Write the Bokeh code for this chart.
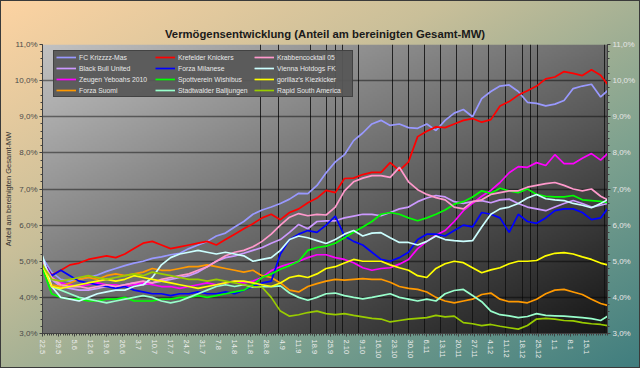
import numpy as np
from bokeh.plotting import figure
from bokeh.models import (Range1d, LinearAxis, FixedTicker, SingleIntervalTicker,
                          CustomJSTickFormatter, Legend, LegendItem)
from bokeh.embed import file_html
from bokeh.resources import INLINE

# ---------------- data ----------------
days = [0, 4, 8, 12, 16, 20, 24, 28, 32, 36, 40, 44, 48, 52, 56, 60, 64, 68, 72, 76,
        80, 84, 88, 92, 96, 100, 104, 108, 112, 116, 120, 124, 128, 132, 136, 140, 144,
        148, 152, 156, 160, 164, 168, 172, 176, 180, 184, 188, 192, 196, 200, 204, 208,
        212, 216, 220, 224, 228, 232, 236, 240, 244, 247]

x_tick_days = [0, 7, 14, 21, 28, 35, 42, 49, 56, 63, 70, 77, 84, 91, 98, 105, 112, 119,
               126, 133, 140, 147, 154, 161, 168, 175, 182, 189, 196, 203, 210, 217, 224,
               231, 238]
x_tick_labels = ["22.5", "29.5", "5.6", "12.6", "19.6", "26.6", "3.7", "10.7", "17.7",
                 "24.7", "31.7", "7.8", "14.8", "21.8", "28.8", "4.9", "11.9", "18.9",
                 "25.9", "2.10", "9.10", "16.10", "23.10", "30.10", "6.11", "13.11",
                 "20.11", "27.11", "4.12", "11.12", "18.12", "25.12", "1.1", "8.1", "15.1"]

matchday_lines = [95.5, 103, 117, 124, 128, 131, 138, 153, 160, 167, 174, 181, 188, 195,
                  202.5, 210, 213.5, 216.5, 245.5]

fc_krizzzz = [5.10, 4.70, 4.50, 4.45, 4.50, 4.55, 4.62, 4.72, 4.80, 4.88, 4.95, 5.00, 5.08,
              5.12, 5.18, 5.22, 5.35, 5.45, 5.55, 5.70, 5.78, 5.95, 6.10, 6.30, 6.42, 6.50,
              6.60, 6.72, 6.88, 6.87, 7.10, 7.45, 7.75, 7.95, 8.34, 8.55, 8.80, 8.90, 8.76,
              8.80, 8.70, 8.68, 8.80, 8.62, 8.90, 9.10, 9.20, 9.00, 9.50, 9.70, 9.85, 9.88,
              9.70, 9.40, 9.37, 9.30, 9.35, 9.45, 9.78, 9.85, 9.90, 9.55, 9.72]
krefelder = [5.00, 4.62, 4.75, 4.90, 4.95, 5.05, 5.10, 5.15, 5.10, 5.20, 5.35, 5.50, 5.55,
             5.45, 5.35, 5.40, 5.45, 5.50, 5.55, 5.45, 5.60, 5.75, 5.90, 6.04, 6.20, 6.30,
             6.15, 6.35, 6.45, 6.62, 6.75, 6.96, 6.90, 7.29, 7.30, 7.40, 7.46, 7.46, 7.73,
             7.51, 7.75, 8.45, 8.60, 8.72, 8.70, 8.80, 8.90, 8.95, 8.85, 8.92, 9.30, 9.42,
             9.60, 9.72, 9.85, 10.05, 10.10, 10.25, 10.20, 10.14, 10.30, 10.15, 9.90]
krabben = [5.00, 4.55, 4.35, 4.30, 4.30, 4.25, 4.30, 4.35, 4.30, 4.35, 4.40, 4.45, 4.40,
           4.50, 4.55, 4.60, 4.65, 4.75, 4.85, 5.00, 5.15, 5.25, 5.30, 5.40, 5.55, 5.75,
           6.00, 6.22, 6.32, 6.26, 6.30, 6.28, 6.50, 6.95, 7.20, 7.30, 7.37, 7.37, 7.32,
           7.60, 7.20, 6.98, 6.85, 6.76, 6.70, 6.50, 6.45, 6.65, 6.70, 6.85, 6.90, 6.95,
           6.95, 7.05, 7.10, 7.15, 7.18, 7.10, 7.00, 6.95, 7.00, 6.80, 6.70]
black_bull = [5.00, 4.50, 4.30, 4.25, 4.20, 4.20, 4.25, 4.30, 4.30, 4.35, 4.40, 4.35, 4.40,
              4.45, 4.50, 4.55, 4.60, 4.70, 4.85, 5.00, 5.10, 5.15, 5.22, 5.30, 5.38, 5.50,
              5.60, 5.80, 6.02, 5.90, 6.10, 6.12, 6.12, 6.20, 6.25, 6.30, 6.30, 6.26, 6.35,
              6.45, 6.50, 6.65, 6.75, 6.82, 6.78, 6.65, 6.60, 6.65, 6.68, 6.62, 6.70, 6.72,
              6.60, 6.50, 6.45, 6.40, 6.50, 6.60, 6.68, 6.60, 6.50, 6.55, 6.60]
milanese = [5.00, 4.60, 4.75, 4.60, 4.45, 4.40, 4.35, 4.30, 4.25, 4.30, 4.20, 4.15, 4.10,
            4.10, 4.05, 4.10, 4.10, 4.15, 4.10, 4.10, 4.15, 4.10, 4.20, 4.30, 4.40, 4.45,
            5.20, 5.60, 5.75, 5.85, 5.80, 6.00, 6.25, 5.70, 5.55, 5.45, 5.25, 5.05, 5.00,
            5.10, 5.25, 5.60, 5.75, 5.75, 5.70, 5.85, 6.00, 5.95, 6.35, 6.30, 6.20, 5.80,
            6.30, 6.10, 6.05, 6.20, 6.40, 6.45, 6.45, 6.35, 6.15, 6.20, 6.45]
vienna = [5.15, 4.30, 4.00, 3.95, 3.90, 4.00, 4.10, 4.15, 4.20, 4.20, 4.30, 4.35, 4.55,
          4.90, 5.10, 5.20, 5.25, 5.30, 5.25, 5.20, 5.25, 5.20, 5.15, 5.00, 5.05, 5.10,
          5.30, 5.60, 5.70, 5.65, 5.57, 5.49, 5.60, 5.75, 5.85, 5.70, 5.78, 5.79, 5.65,
          5.52, 5.52, 5.45, 5.55, 5.70, 5.60, 5.57, 5.55, 5.57, 5.95, 6.30, 6.45, 6.50,
          6.60, 6.75, 6.85, 6.73, 6.70, 6.68, 6.60, 6.55, 6.48, 6.60, 6.70]
zeugen = [5.00, 4.55, 4.40, 4.35, 4.30, 4.35, 4.40, 4.35, 4.35, 4.30, 4.35, 4.40, 4.35,
          4.30, 4.30, 4.25, 4.30, 4.35, 4.40, 4.35, 4.40, 4.45, 4.40, 4.45, 4.55, 4.74,
          4.85, 4.93, 5.00, 5.10, 5.18, 5.18, 5.10, 5.05, 4.96, 4.82, 4.75, 4.80, 4.82,
          4.92, 5.05, 5.35, 5.55, 5.72, 5.85, 6.10, 6.40, 6.60, 6.80, 6.96, 7.18, 7.45,
          7.62, 7.60, 7.73, 7.65, 7.95, 7.70, 7.70, 7.85, 7.98, 7.80, 7.98]
spottverein = [4.80, 4.10, 4.00, 3.95, 3.95, 3.90, 3.90, 3.95, 3.95, 4.00, 3.90, 3.90, 3.90,
               3.95, 3.95, 4.00, 4.00, 4.05, 4.00, 4.05, 4.10, 4.15, 4.20, 4.35, 4.55, 4.65,
               4.78, 4.88, 5.00, 5.30, 5.38, 5.42, 5.50, 5.65, 5.80, 5.95, 6.10, 6.30, 6.35,
               6.30, 6.20, 6.12, 6.20, 6.30, 6.42, 6.58, 6.65, 6.78, 6.95, 6.88, 7.02, 6.95,
               6.90, 7.00, 6.85, 6.80, 6.78, 6.78, 6.82, 6.70, 6.68, 6.66, 6.62]
gorillaz = [4.90, 4.30, 4.25, 4.30, 4.35, 4.40, 4.45, 4.50, 4.45, 4.50, 4.60, 4.55, 4.50,
            4.45, 4.40, 4.35, 4.30, 4.25, 4.30, 4.35, 4.40, 4.45, 4.45, 4.40, 4.35, 4.30,
            4.40, 4.55, 4.60, 4.55, 4.65, 4.80, 4.85, 4.95, 5.05, 5.00, 5.00, 5.00, 4.90,
            4.82, 4.75, 4.60, 4.55, 4.80, 4.93, 5.00, 4.96, 4.82, 4.68, 4.76, 4.82, 4.93,
            5.00, 5.00, 5.02, 5.15, 5.22, 5.24, 5.20, 5.12, 5.05, 4.95, 4.90]
suomi = [4.80, 4.35, 4.30, 4.40, 4.50, 4.55, 4.50, 4.60, 4.65, 4.60, 4.65, 4.70, 4.80,
         4.75, 4.75, 4.80, 4.85, 4.85, 4.90, 4.85, 4.80, 4.75, 4.70, 4.75, 4.60, 4.55,
         4.40, 4.20, 4.15, 4.30, 4.38, 4.45, 4.50, 4.48, 4.50, 4.52, 4.50, 4.50, 4.42,
         4.30, 4.25, 4.22, 4.15, 4.00, 3.90, 3.85, 3.90, 3.95, 4.08, 4.12, 3.95, 3.88,
         3.88, 3.85, 3.95, 4.10, 4.20, 4.22, 4.15, 4.08, 3.95, 3.83, 3.78]
stadtwalder = [4.90, 4.30, 4.20, 4.10, 4.00, 3.95, 3.90, 3.85, 3.90, 3.95, 4.00, 4.05, 4.00,
               3.90, 3.85, 3.90, 4.00, 4.10, 4.20, 4.30, 4.35, 4.30, 4.35, 4.28, 4.30, 4.30,
               4.32, 4.12, 4.00, 3.92, 4.00, 4.10, 4.12, 4.05, 4.00, 3.96, 4.00, 4.05, 4.10,
               4.00, 3.95, 3.90, 3.95, 3.90, 4.10, 4.19, 4.22, 4.05, 3.88, 3.62, 3.52, 3.49,
               3.44, 3.47, 3.55, 3.50, 3.49, 3.48, 3.46, 3.44, 3.41, 3.36, 3.48]
rapid = [4.90, 4.50, 4.45, 4.50, 4.55, 4.60, 4.55, 4.50, 4.55, 4.60, 4.65, 4.60, 4.70,
         4.65, 4.60, 4.55, 4.50, 4.50, 4.45, 4.50, 4.45, 4.40, 4.35, 4.30, 4.28, 4.00,
         3.62, 3.48, 3.52, 3.58, 3.62, 3.55, 3.52, 3.55, 3.50, 3.46, 3.42, 3.40, 3.32,
         3.36, 3.40, 3.42, 3.44, 3.50, 3.46, 3.48, 3.30, 3.27, 3.22, 3.25, 3.20, 3.16,
         3.12, 3.22, 3.40, 3.42, 3.40, 3.36, 3.35, 3.30, 3.27, 3.25, 3.22]

# legend order (filled column by column)
series_names = ["FC Krizzzz-Mas", "Black Bull United", "Zeugen Yeboahs 2010", "Forza Suomi",
                "Krefelder Knickers", "Forza Milanese", "Spottverein Wishibus",
                "Stadtwalder Balljungen", "Krabbencocktail 05", "Vienna Hotdogs FK",
                "gorillaz's Kiezkicker", "Rapid South America"]
series_values = [fc_krizzzz, black_bull, zeugen, suomi, krefelder, milanese, spottverein,
                 stadtwalder, krabben, vienna, gorillaz, rapid]
series_colors = ["#9999ff", "#cc99ff", "#ff00ff", "#ff9900", "#ff0000", "#0000ff",
                 "#00ff00", "#99ffcc", "#ff99cc", "#ccffff", "#ffff00", "#99cc00"]

y_min, y_max = 3.0, 11.0
x_min, x_max = days[0], days[-1]

FONT = "Liberation Sans"

# ---------------- figure ----------------
p = figure(width=640, height=368, output_backend="svg", toolbar_location=None,
           x_range=Range1d(x_min, x_max), y_range=Range1d(y_min, y_max),
           min_border_left=40, min_border_right=33, min_border_top=44, min_border_bottom=35)
p.border_fill_color = None
p.background_fill_color = None
p.outline_line_color = None
p.styles = {"background-image": "linear-gradient(to bottom right, #fdd3a2 0%, #c9bf99 35%, #7fa28f 68%, #3f7d7e 100%)",
            "outline": "1px solid #3a3a3a", "outline-offset": "-1px"}

p.title.text = "Vermögensentwicklung (Anteil am bereinigten Gesamt-MW)"
p.title.align = "center"
p.title.text_font = FONT
p.title.text_font_size = "11.3px"
p.title.text_font_style = "bold"
p.title.text_color = "#1a1a1a"

# plot-area gradient (style only)
gh, gw = 150, 300
rows, cols = np.mgrid[0:gh, 0:gw]
down = 1.0 - rows / (gh - 1)
right = cols / (gw - 1)
t = (down + right) / 2.0
g = (194 - 172 * t).astype(np.uint8)
img = np.empty((gh, gw), dtype=np.uint32)
view = img.view(dtype=np.uint8).reshape((gh, gw, 4))
view[..., 0] = g
view[..., 1] = g
view[..., 2] = g
view[..., 3] = 255
p.image_rgba(image=[img], x=x_min, y=y_min, dw=x_max - x_min, dh=y_max - y_min, level="image")

# grids
p.ygrid.grid_line_color = "#000000"
p.ygrid.grid_line_alpha = 0.45
p.ygrid.grid_line_width = 1.5
p.xgrid.ticker = FixedTicker(ticks=matchday_lines)
p.xgrid.grid_line_color = "#101010"
p.xgrid.grid_line_alpha = 0.85
p.xgrid.grid_line_width = 1

# axes
pct = CustomJSTickFormatter(code="return tick.toFixed(1).replace('.', ',') + '%';")
ax_l = p.yaxis[0]
ax_l.ticker = SingleIntervalTicker(interval=1, num_minor_ticks=5)
ax_l.formatter = pct
ax_l.axis_label = "Anteil am bereinigten Gesamt-MW"
ax_l.axis_label_text_font = FONT
ax_l.axis_label_text_font_size = "7.5px"
ax_l.axis_label_text_font_style = "normal"
ax_l.axis_label_text_color = "#333333"
ax_l.axis_label_standoff = -1
ax_l.major_label_text_color = "#4a4a4a"

ax_r = LinearAxis(ticker=SingleIntervalTicker(interval=1, num_minor_ticks=5), formatter=pct)
ax_r.major_label_text_color = "#e6e6e6"
p.add_layout(ax_r, "right")

for ax in (ax_l, ax_r):
    ax.major_label_text_font = FONT
    ax.major_label_text_font_size = "8px"
    ax.major_label_standoff = 2

ax_x = p.xaxis[0]
ax_x.ticker = FixedTicker(ticks=x_tick_days, minor_ticks=list(range(x_min, x_max + 1)))
ax_x.major_label_overrides = {d: lab for d, lab in zip(x_tick_days, x_tick_labels)}
ax_x.major_label_orientation = "vertical"
ax_x.major_label_text_font = FONT
ax_x.major_label_text_font_size = "7.5px"
ax_x.major_label_text_color = "#ececec"
ax_x.major_label_standoff = 3

for ax in (ax_l, ax_r, ax_x):
    ax.axis_line_color = "#404040"
    ax.major_tick_line_color = "#404040"
    ax.minor_tick_line_color = "#404040"
    ax.major_tick_in = 0
    ax.major_tick_out = 3
    ax.minor_tick_in = 0
    ax.minor_tick_out = 2

# series
items = []
for name, vals, color in zip(series_names, series_values, series_colors):
    r = p.line(days, vals, line_color=color, line_width=1.7)
    items.append(LegendItem(label=name, renderers=[r]))

legend = Legend(items=items, ncols=3, location=(11, 236))
legend.padding = 2
legend.spacing = 3
legend.glyph_width = 20
legend.glyph_height = 8
legend.label_height = 8
legend.label_width = 73
legend.label_standoff = 3
legend.label_text_font = FONT
legend.label_text_font_size = "6.8px"
legend.label_text_color = "#e8e8e8"
legend.background_fill_color = "#575757"
legend.background_fill_alpha = 0.95
legend.border_line_color = "#2a2a2a"
legend.border_line_width = 1
p.add_layout(legend)

open("out.html", "w").write(file_html(p, INLINE))
